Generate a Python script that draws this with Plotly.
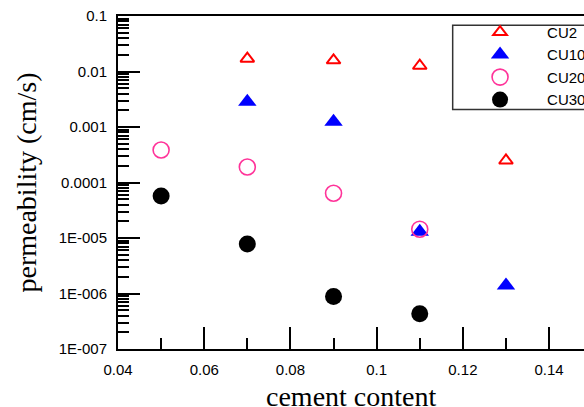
import plotly.graph_objects as go

# ---- data ----
cu2_x = [0.07, 0.09, 0.11, 0.13]
cu2_y = [0.0170, 0.0159, 0.0127, 0.000249]

cu10_x = [0.07, 0.09, 0.11, 0.13]
cu10_y = [0.00286, 0.00124, 1.30e-5, 1.40e-6]

cu20_x = [0.05, 0.07, 0.09, 0.11]
cu20_y = [0.000385, 0.000190, 6.4e-5, 1.44e-5]

cu30_x = [0.05, 0.07, 0.09, 0.11]
cu30_y = [5.7e-5, 7.8e-6, 8.8e-7, 4.3e-7]

series_names = ["CU2", "CU10", "CU20", "CU30"]

y_tick_vals = [1e-7, 1e-6, 1e-5, 1e-4, 1e-3, 1e-2, 1e-1]
y_tick_text = ["1E-007", "1E-006", "1E-005", "0.0001", "0.001", "0.01", "0.1"]

x_title = "cement content"
y_title = "permeability (cm/s)"

SANS = "Liberation Sans, Arial, sans-serif"
SERIF = "Liberation Serif, Times New Roman, serif"

fig = go.Figure()
fig.add_trace(go.Scatter(
    x=cu2_x, y=cu2_y, mode="markers", name=series_names[0],
    marker=dict(symbol="triangle-up-open", size=12, color="#FF0000",
                line=dict(width=2, color="#FF0000"))))
fig.add_trace(go.Scatter(
    x=cu10_x, y=cu10_y, mode="markers", name=series_names[1],
    marker=dict(symbol="triangle-up", size=16, color="#0000FF",
                line=dict(width=0))))
fig.add_trace(go.Scatter(
    x=cu20_x, y=cu20_y, mode="markers", name=series_names[2],
    marker=dict(symbol="circle-open", size=16, color="#FF3399",
                line=dict(width=1.6, color="#FF3399"))))
fig.add_trace(go.Scatter(
    x=cu30_x, y=cu30_y, mode="markers", name=series_names[3],
    marker=dict(symbol="circle", size=17, color="#000000",
                line=dict(width=0))))

fig.update_layout(
    width=584, height=407,
    margin=dict(l=118, r=0, t=16, b=58, autoexpand=False),
    paper_bgcolor="white", plot_bgcolor="white",
    showlegend=True,
    legend=dict(
        x=0.719, y=1.0005, xanchor="left", yanchor="top",
        bgcolor="rgba(0,0,0,0)", borderwidth=0,
        font=dict(family=SANS, size=15, color="black"),
        itemwidth=84, tracegroupgap=0,
    ),
    shapes=[dict(type="rect", xref="paper", yref="paper",
                 x0=0.7182, x1=1.2, y0=0.7194, y1=0.9721,
                 line=dict(color="#333333", width=1.5),
                 fillcolor="white", layer="above")],
    annotations=[dict(text=x_title, xref="paper", yref="paper",
                      x=0.5, y=-0.09, xanchor="center", yanchor="top",
                      showarrow=False,
                      font=dict(family=SERIF, size=28, color="black"))],
)

fig.update_xaxes(
    range=[0.04, 0.1481], dtick=0.02, tick0=0.04,
    showgrid=False, zeroline=False,
    showline=True, linecolor="black", linewidth=2, mirror=True,
    ticks="inside", ticklen=22, tickwidth=1.5, tickcolor="black",
    minor=dict(ticks="inside", ticklen=11, tickwidth=1.5, tickcolor="black",
               dtick=0.01, tick0=0.04, showgrid=False),
    tickfont=dict(family=SANS, size=15, color="black"),
    ticklabelstandoff=6,
)
fig.update_yaxes(
    type="log", range=[-7, -1],
    tickvals=y_tick_vals, ticktext=y_tick_text,
    showgrid=False, zeroline=False,
    showline=True, linecolor="black", linewidth=2, mirror=False,
    ticks="inside", ticklen=22, tickwidth=1.5, tickcolor="black",
    minor=dict(ticks="inside", ticklen=11, tickwidth=1.5, tickcolor="black",
               dtick="D1", showgrid=False),
    tickfont=dict(family=SANS, size=15, color="black"),
    ticklabelstandoff=6,
    title=dict(text=y_title, font=dict(family=SERIF, size=28, color="black"),
               standoff=14),
)

fig.write_html("out.html", config={"displayModeBar": False},
               post_script="document.body.style.margin='0';")
